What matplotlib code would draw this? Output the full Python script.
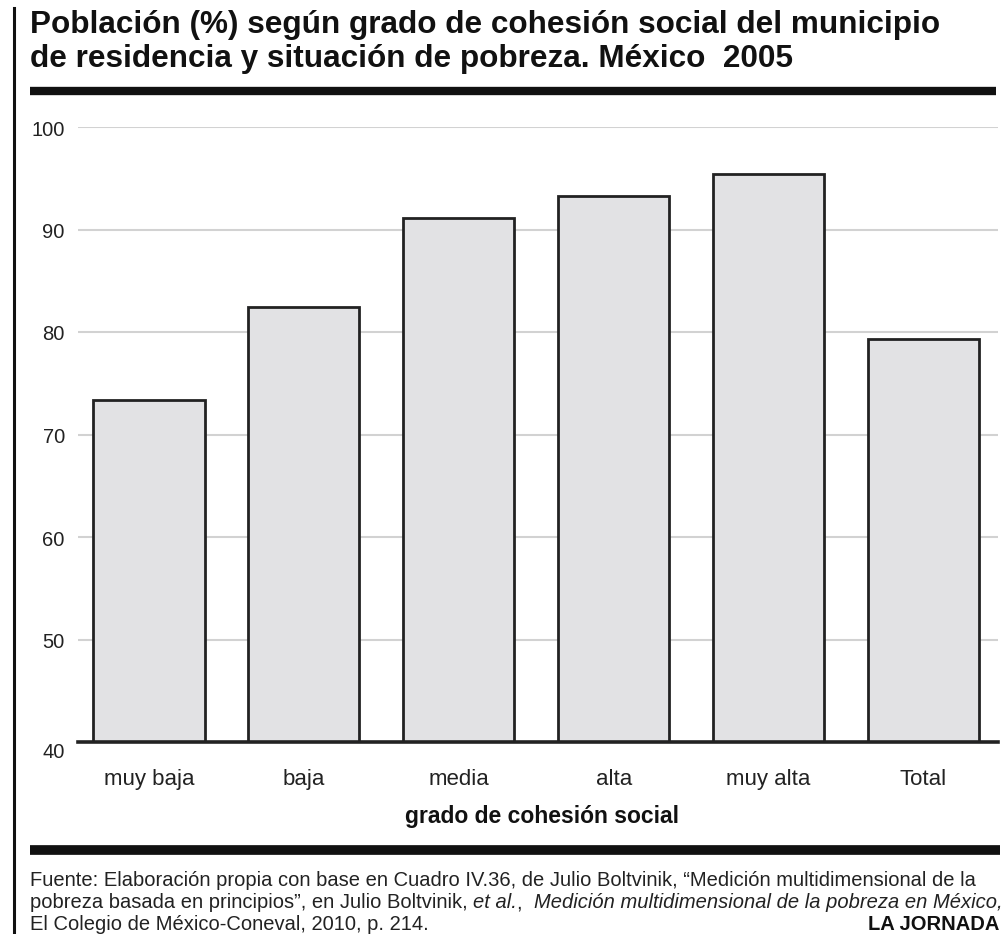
import matplotlib
matplotlib.use("Agg")
import matplotlib.pyplot as plt

# ---------------- data ----------------
categories = ["muy baja", "baja", "media", "alta", "muy alta", "Total"]
values = [73.4, 82.4, 91.1, 93.3, 95.4, 79.3]
yticks = [40, 50, 60, 70, 80, 90, 100]

title_lines = ["Población (%) según grado de cohesión social del municipio",
               "de residencia y situación de pobreza. México  2005"]
xlabel = "grado de cohesión social"
source_line1 = ("Fuente: Elaboración propia con base en Cuadro IV.36, de Julio Boltvinik, "
                "“Medición multidimensional de la")
source_line2 = [("pobreza basada en principios”, en Julio Boltvinik, ", "normal"),
                ("et al.", "italic"),
                (",  ", "normal"),
                ("Medición multidimensional de la pobreza en México,", "italic")]
source_line3 = "El Colegio de México-Coneval, 2010, p. 214."
brand = "LA JORNADA"

# ---------------- figure ----------------
W, H = 1002, 934
plt.rcParams['font.family'] = ['Liberation Sans', 'DejaVu Sans']
fig = plt.figure(figsize=(W / 100, H / 100), dpi=100)
fig.patch.set_facecolor("white")

def fx(px):
    return px / W

def fy(py):
    return 1 - py / H

renderer = fig.canvas.get_renderer()

def fit_text(x, y, s, target_w, **kw):
    t = fig.text(fx(x), fy(y), s, fontsize=20, **kw)
    w = t.get_window_extent(renderer=renderer).width
    t.set_fontsize(20 * target_w / w)
    return t

# left vertical rule
fig.add_artist(plt.Line2D([fx(13.5), fx(13.5)], [0, fy(8)], color="#111111", lw=2.2))
# top and bottom thick rules
fig.add_artist(plt.Line2D([fx(30), fx(996)], [fy(91), fy(91)], color="#111111", lw=6.0,
                          solid_capstyle="butt"))
fig.add_artist(plt.Line2D([fx(30), fx(1000)], [fy(850), fy(850)], color="#111111", lw=7.0,
                          solid_capstyle="butt"))

# title
t1 = fit_text(30, 33, title_lines[0], 908, fontweight="bold", va="baseline", ha="left",
              color="#111111")
fig.text(fx(30), fy(67), title_lines[1], fontsize=t1.get_fontsize(), fontweight="bold",
         va="baseline", ha="left", color="#111111")

# ---------------- axes ----------------
ax = fig.add_axes([fx(78), fy(742), fx(998) - fx(78), fy(127) - fy(742)])
ax.set_facecolor("none")
x = list(range(len(categories)))
ax.bar(x, values, width=0.717, color="#e2e2e4", edgecolor="#222222", linewidth=2.0,
       zorder=2)
ax.set_ylim(40, 100)
ax.set_xlim(-71 / 154.9, (920 - 71) / 154.9)
for v in yticks[1:]:
    ax.axhline(v, color="#d2d2d2", lw=1.5, zorder=0)
ax.axhline(40, color="#222222", lw=2.6, zorder=3, clip_on=False)
for s in ax.spines.values():
    s.set_visible(False)
ax.set_xticks([])
ax.set_yticks([])

for v in yticks:
    dy = -10 if v == 40 else -3
    ax.annotate(str(v), xy=(0, v), xycoords=("axes fraction", "data"),
                xytext=(-9.5, dy * 0.72), textcoords="offset points",
                ha="right", va="center", fontsize=14.5, color="#222222")
for i, c in enumerate(categories):
    ax.annotate(c, xy=(i, 0), xycoords=("data", "axes fraction"),
                xytext=(0, -43 * 0.72), textcoords="offset points",
                ha="center", va="baseline", fontsize=16, color="#222222")

fit_text(405, 817, xlabel, 274, fontweight="bold", va="center", ha="left", color="#111111")

# ---------------- source ----------------
fs = fit_text(30, 880, source_line1, 940, va="center", ha="left", color="#222222").get_fontsize()
xpos = 30
for s, style in source_line2:
    t = fig.text(fx(xpos), fy(903), s, fontsize=fs, style=style, va="center", ha="left",
                 color="#222222")
    xpos += t.get_window_extent(renderer=renderer).width
fig.text(fx(30), fy(925), source_line3, fontsize=fs, va="center", ha="left", color="#222222")
fig.text(fx(999), fy(925), brand, fontsize=fs, fontweight="bold", va="center", ha="right",
         color="#111111")

fig.savefig("out.png", dpi=100, facecolor="white")
